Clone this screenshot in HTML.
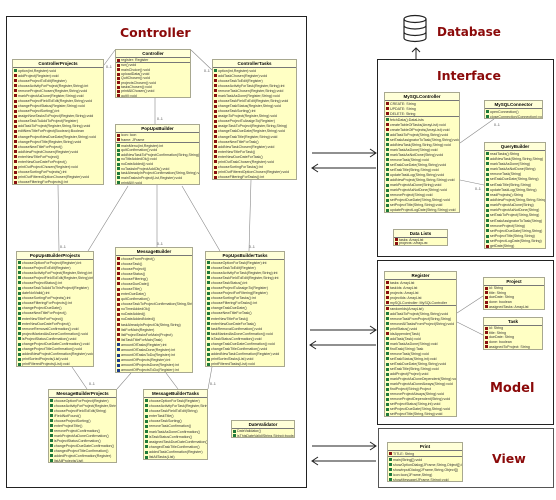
<!DOCTYPE html>
<html><head><meta charset="utf-8">
<style>
body{margin:0;width:556px;height:500px;background:#fff;position:relative;overflow:hidden;font-family:"Liberation Sans",sans-serif}
.fr{position:absolute;border:1px solid #222;box-sizing:border-box}
.tt{position:absolute;color:#8b0a0a;font-family:"DejaVu Sans",sans-serif;font-weight:bold;white-space:nowrap;line-height:1}
.c{position:absolute;background:#ffffc4;border:1px solid #a8a890;box-sizing:border-box;overflow:hidden}
.h{height:7px;line-height:7px;font-size:4.5px;font-weight:bold;text-align:center;border-bottom:1px solid #777;background:#ffffd8}
.s{border-top:1px solid #777}
.r{font-size:3.6px;white-space:nowrap;overflow:hidden;display:flex;align-items:center;color:#333}
.r i{display:inline-block;width:3px;height:3px;margin:0 1px 0 1px;flex:none}
.g{background:#1f7a3a}.d{background:#8a1010}.b{background:#1a3a8a}
svg{position:absolute;left:0;top:0}
</style></head><body>
<div class="fr" style="left:6px;top:16px;width:301px;height:472px"></div>
<div class="tt" style="left:120px;top:27px;font-size:12.5px">Controller</div>
<div class="fr" style="left:377px;top:59px;width:177px;height:198px"></div>
<div class="tt" style="left:437px;top:70px;font-size:12.5px">Interface</div>
<div class="fr" style="left:377px;top:260px;width:177px;height:165px"></div>
<div class="tt" style="left:490px;top:382px;font-size:13px">Model</div>
<div class="fr" style="left:378px;top:428px;width:176px;height:60px;border-color:#555"></div>
<div class="tt" style="left:492px;top:453px;font-size:12.5px">View</div>
<div class="tt" style="left:437px;top:26px;font-size:12px">Database</div>
<svg width="556" height="500" viewBox="0 0 556 500">
<g fill="none" stroke="#222" stroke-width="1.2">
<ellipse cx="415" cy="19" rx="11" ry="3.5"/>
<path d="M404 19v19a11 3.5 0 0 0 22 0V19M404 25.5a11 3.5 0 0 0 22 0M404 32a11 3.5 0 0 0 22 0"/>
</g>
<g stroke="#222" stroke-width="1" fill="none">
<path d="M416 59V48M412 52l4-4 4 4"/>
<path d="M312 153h64M370 149l6 4-6 4"/><path d="M376 168h-64M318 164l-6 4 6 4"/>
<path d="M310 330h66M370 326l6 4-6 4"/><path d="M376 345h-66M316 341l-6 4 6 4"/>
<path d="M312 446h64M370 442l6 4-6 4"/><path d="M376 461h-64M318 457l-6 4 6 4"/>
</g>
<g stroke="#888" stroke-width="0.6" fill="none">
<path d="M115 50L104 65M191 50L212 70M155 98V124M128 186L88 251M182 186L220 251M157 185V247M251 180L249 251M58 185L59 251M72 367L87 389M131 373L117 389M166 373L178 389M212 367L208 389M460 143L494 119M460 180L484 185M457 313L483 296M457 322L483 335"/>
</g>
<g font-size="3.5" fill="#444" font-family="Liberation Sans">
<text x="106" y="68">0..1</text><text x="204" y="72">0..1</text><text x="157" y="120">0..1</text>
<text x="60" y="248">0..1</text><text x="157" y="245">0..1</text><text x="249" y="248">0..1</text>
<text x="89" y="385">0..1</text><text x="210" y="385">0..1</text><text x="494" y="126">0..1</text><text x="475" y="190">0..1</text>
</g>
</svg>
<div id="root"></div>
<script>
function box(x,y,w,h,n,a,m){
 var s='<div class="c" style="left:'+x+'px;top:'+y+'px;width:'+w+'px;height:'+h+'px"><div class="h">'+n+'</div>';
 var tot=a.length+m.length;var rh=(h-9-(a.length?1:0))/tot;
 a.forEach(function(t){s+='<div class="r" style="height:'+rh+'px"><i class="d"></i>'+t+'</div>'});
 if(a.length)s+='<div class="s"></div>';
 m.forEach(function(t){var c='g';if(t[0]=='!'){c='d';t=t.slice(1)}if(t[0]=='^'){c='b';t=t.slice(1)}s+='<div class="r" style="height:'+rh+'px"><i class="'+c+'"></i>'+t+'</div>'});
 return s+'</div>';
}
var H='';
H+=box(12,59,92,126,'ControllerProjects',[],['option(int,Register):void','!addProject(Register):void','!chooseProjectToEdit(Register)','!chooseActivityForProject(Register,String):int','!removeProjectChosen(Register,String):void','!markProjectAsDone(Register,String):void','!chooseProjectFieldToEdit(Register,String):void','!changeProjectStatus(Register,String):void','!chooseProjectSorting():int','!assignNewTasksToProject(Register,String):void','!chooseTaskToAddToProject(Register)','!addTaskToProject(Register,String,String):void','!editNewTitleForProject(Boolean):Boolean','!changeProjectNewDueDate(Register,String):void','!changeProjectTitle(Register,String):void','!chooseNewTitleForProject()','!addNewProjectChosen(Register):void','!enterNewTitleForProject()','!enterNewDueDateForProject()','!printOutProjectChosen(Register):void','!chooseSortingForProjects():int','!printOutFilteredOptionChosen(Register):void','!chooseFilteringForProjects():int']);
H+=box(115,49,76,49,'Controller',['register: Register'],['!run():void','!mainChoice():void','!uploadData():void','!QuitChosen():void','!projectsChosen():void','!tasksChosen():void','!printAllChosen():void','!quit():void']);
H+=box(212,59,85,121,'ControllerTasks',[],['option(int,Register):void','!addTaskChosen(Register):void','!chooseTaskToEdit(Register)','!chooseActivityForTask(Register,String):int','!removeTaskChosen(Register,String):void','!markTaskAsDone(Register,String):void','!chooseTaskFieldToEdit(Register,String):void','!changeTaskStatus(Register,String):void','!chooseTaskSorting():int','!assignToProject(Register,String):void','!chooseProjectToAssignTo(Register)','!assignTaskToProject(Register,String,String)','!changeTaskDueDate(Register,String):void','!changeTaskTitle(Register,String):void','!chooseNewTitleForTask()','!addNewTaskChosen(Register):void','!enterNewTitleForTask()','!enterNewDueDateForTask()','!printOutTaskChosen(Register):void','!chooseSortingForTasks():int','!printOutFilteredOptionChosen(Register):void','!chooseFilteringForTasks():int']);
H+=box(115,124,85,61,'PopUpsBuilder',['icon: Icon','frame: JFrame'],['mainMenu(int,Register):int','quitConfirmation():void','addNewTaskToProjectConfirmation(String,String):void','noTitleAddedOk():void','noDateAdded():void','noTasksInProjectAddOk():void','taskAlreadyInProjectConfirmation(String,String):void','mainTasksInProject(List,Register):void','printAll():void']);
H+=box(16,251,78,116,'PopUpsBuilderProjects',[],['chooseOptionForProject(Register):int','chooseProjectToEdit(Register)','chooseActivityForProject(Register,String):int','chooseProjectFieldToEdit(Register,String):int','chooseProjectStatus():int','chooseTaskToAddToThisProject(Register)','dateNotValid():int','chooseSortingForProjects():int','chooseFilteringForProjects():int','changeProjectDueDate()','chooseNewTitleForProject()','enterNewTitleForProject()','enterNewDueDateForProject()','removeRemovalConfirmation():void','projectMarkedAsDoneConfirmation():void','isProjectStatusConfirmation():void','changeProjectDueDateConfirmation():void','changeProjectTitleConfirmation():void','addedNewProjectConfirmation(Register):void','printSortedProjects(List<Project>):void','printFilteredProjects(List<Project>):void']);
H+=box(115,247,78,126,'MessageBuilder',[],['!chooseFromProject()','!chooseTask()','!chooseProject()','!chooseStatus()','!chooseFiltering()','!chooseDueDate()','!chooseTitle()','!enterDueDate()','!quitConfirmation()','!chooseTaskToProjectConfirmation(String,String)','!noTimeAddedOk()','!noDateAdded()','!noDateAddedNoted()','!taskAlreadyInProjectOk(String,String)','!listForMain(Register)','!listProjectTasksForMain(Project)','!listTaskTitleForMain(Task)','^amountOfTasks(Register):int','^amountOfTasksDone(Register):int','^amountOfTasksToDo(Register):int','^amountOfProjects(Register):int','^amountOfProjectsDone(Register):int','^amountOfProjectsToDo(Register):int']);
H+=box(205,251,80,116,'PopUpsBuilderTasks',[],['chooseOptionForTask(Register):int','chooseTaskToEdit(Register)','chooseActivityForTask(Register,String):int','chooseTaskFieldToEdit(Register,String):int','chooseTaskStatus():int','chooseProjectToAssignTo(Register)','chooseProjectForFiltering(Register)','chooseSortingForTasks():int','chooseFilteringForTasks():int','changeTaskDueDate()','chooseNewTitleForTask()','enterNewTitleForTask()','enterNewDueDateForTask()','taskRemovalConfirmation():void','taskMarkedAsDoneConfirmation():void','isTaskStatusConfirmation():void','changeTaskDueDateConfirmation():void','changeTaskTitleConfirmation():void','addedNewTaskConfirmation(Register):void','printSortedTasks(List<Task>):void','printFilteredTasks(List<Task>):void']);
H+=box(48,389,69,74,'MessageBuilderProjects',[],['chooseOptionForProject(Register)','chooseActivityForProject(Register,String)','chooseProjectFieldToEdit(String)','iFieldNotFound()','chooseProjectSorting()','enterProjectTitle()','removeProjectConfirmation()','markProjectAsDoneConfirmation()','isProjectStatusConfirmation()','changeProjectDueDateConfirmation()','changedProjectTitleConfirmation()','addedProjectConfirmation(Register)','listAllProjects(List<Project>)']);
H+=box(143,389,65,71,'MessageBuilderTasks',[],['chooseOptionForTask(Register)','chooseActivityForTask(Register,String)','chooseTaskFieldToEdit(String)','enterTaskTitle()','chooseTaskSorting()','removeTaskConfirmation()','markTaskAsDoneConfirmation()','isTaskStatusConfirmation()','assignedTaskDueDateConfirmation()','changedTaskTitleConfirmation()','addedTaskConfirmation(Register)','listAllTasks(List<Task>)']);
H+=box(231,420,64,18,'DateValidator',[],['DateValidator()','isThisDateValid(String,String):boolean']);
H+=box(384,92,76,121,'MySQLController',['CREATE: String','UPDATE: String','DELETE: String'],['fetchData():DataLists','!createTableOfTasks(ArrayList<Task>):void','!createTableOfProjects(ArrayList<Project>):void','addTaskToProject(String,String):void','setTaskAssignatorToTask(String,String):void','addNewTask(String,String,String):void','markTaskAsDone(String):void','markTaskAsNotDone(String):void','removeTask(String):void','setTaskDueDate(String,String):void','setTaskTitle(String,String):void','updateTaskLog(String,String):void','addNewProject(String,String,String):void','markProjectAsDone(String):void','markProjectAsNotDone(String):void','removeProject(String):void','setProjectDueDate(String,String):void','setProjectTitle(String,String):void','updateProjectLogDate(String,String):void']);
H+=box(484,100,59,19,'MySQLConnector',[],['openConnection()','closeConnection(Connection):void']);
H+=box(484,142,62,107,'QueryBuilder',[],['readTasks():String','addNewTask(String,String,String)','markTaskAsDone(String)','markTaskAsNotDone(String)','removeTask(String)','setTaskDueDate(String,String)','setTaskTitle(String,String)','updateTaskLog(String,String)','readProjects():String','addNewProject(String,String,String)','markProjectAsDone(String)','markProjectAsNotDone(String)','setTaskToProject(String,String)','setTaskAssignatorToTask(String)','removeProject(String)','setProjectDueDate(String,String)','setProjectTitle(String,String)','setProjectLogDate(String,String)','!getDate(String)']);
H+=box(393,229,55,17,'Data Lists',['tasks: ArrayList<Task>','projects: ArrayList<Project>'],[]);
H+=box(384,271,73,146,'Register',['tasks: ArrayList<Task>','taskIds: ArrayList<String>','projects: ArrayList<Project>','projectIds: ArrayList<String>','mySQLController: MySQLController'],['!randomIds(ArrayList<String>)','addTaskToProject(String,String):void','removeTaskFromProject(String,String)','removeAllTasksFromProject(String):void','printStatus():void','!idsAppender(Task)','addTask(Task):void','markTaskAsDone(String):void','findTask(String):Task','removeTask(String):void','setTaskStatus(String,int):void','setTaskDueDate(String,String):void','setTaskTitle(String,String):void','addProject(Project):void','markProjectAsDoneDependent(String):void','markProjectAsDoneAlways(String):void','findProject(String):Project','removeProjectAlways(String):void','removeProjectDependent(String):void','setProjectStatus(String,int):void','setProjectDueDate(String,String):void','setProjectTitle(String,String):void']);
H+=box(483,277,62,33,'Project',['id: String','title: String','dueDate: String','done: boolean','assignedTasks: ArrayList<String>'],[]);
H+=box(483,317,60,33,'Task',['id: String','title: String','dueDate: String','done: boolean','assignedToProject: String'],[]);
H+=box(387,442,76,40,'Print',['TITLE: String'],['main(String[]):void','showOptionDialog(JFrame,String,Object[]):int','showInputDialog(JFrame,String,Object[])','icon:Icon(JFrame,String)','showMessage(JFrame,String):void']);
document.getElementById('root').innerHTML=H;
</script>
</body></html>
